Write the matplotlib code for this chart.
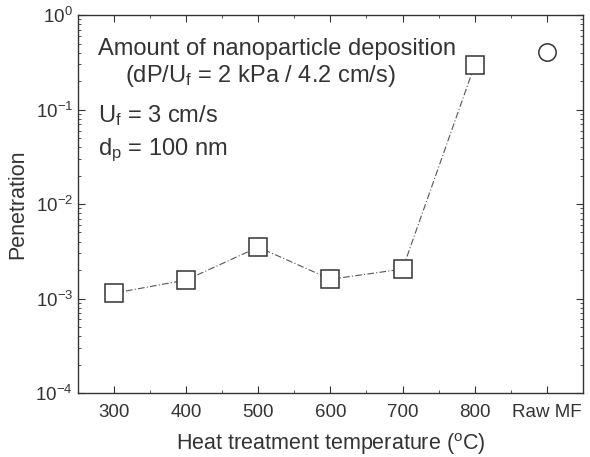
import numpy as np
import matplotlib.pyplot as plt
from matplotlib.ticker import LogLocator, MultipleLocator, FixedLocator, NullFormatter

plt.rcParams['font.family'] = ['Liberation Sans', 'DejaVu Sans']
plt.rcParams['mathtext.fontset'] = 'custom'
plt.rcParams['mathtext.rm'] = 'Liberation Sans'
plt.rcParams['mathtext.it'] = 'Liberation Sans'

temps = [300, 400, 500, 600, 700, 800]
penetration = [1.14e-3, 1.57e-3, 3.5e-3, 1.6e-3, 2.05e-3, 0.295]
raw_x = [900]
raw_pen = [0.41]
tick_pos = [300, 400, 500, 600, 700, 800, 900]
tick_labels = ['300', '400', '500', '600', '700', '800', 'Raw MF']

ink = '#333333'
fig = plt.figure(figsize=(5.9, 4.57), dpi=100)
ax = fig.add_axes([0.132, 0.140, 0.856, 0.827])

ax.plot(temps, penetration, color='#555555', lw=0.8, ls=(0, (6, 2, 1, 2)),
        marker='s', ms=12.5, mfc='white', mec=ink, mew=1.1)
ax.plot(raw_x, raw_pen, ls='none', marker='o', ms=12.5, mfc='white', mec=ink, mew=1.1)

ax.set_yscale('log')
ax.set_ylim(1e-4, 1)
ax.set_xlim(250, 950)
ax.xaxis.set_major_locator(FixedLocator(tick_pos))
ax.set_xticklabels(tick_labels)
ax.xaxis.set_minor_locator(MultipleLocator(50))
ax.yaxis.set_major_locator(LogLocator(base=10, numticks=10))
ax.yaxis.set_minor_locator(LogLocator(base=10, subs=np.arange(2, 10), numticks=10))
ax.yaxis.set_minor_formatter(NullFormatter())

ax.tick_params(which='both', direction='in', top=True, right=True, colors=ink,
               labelsize=13.5, labelcolor=ink)
ax.tick_params(which='major', length=5)
ax.tick_params(which='minor', length=2.5)
ax.tick_params(axis='x', pad=8)
for s in ax.spines.values():
    s.set_color(ink)
    s.set_linewidth(1.0)

ax.set_xlabel('Heat treatment temperature ($^{\\rm o}$C)', fontsize=15.5, color=ink, labelpad=7)
ax.set_ylabel('Penetration', fontsize=15.5, color=ink, labelpad=5)

tk = dict(transform=ax.transAxes, fontsize=17, color=ink, va='baseline', ha='left')
ax.text(0.04, 0.894, 'Amount of nanoparticle deposition', **tk)
ax.text(0.093, 0.822, '(dP/U$_{\\rm f}$ = 2 kPa / 4.2 cm/s)', **tk)
ax.text(0.04, 0.716, 'U$_{\\rm f}$ = 3 cm/s', **tk)
ax.text(0.04, 0.630, 'd$_{\\rm p}$ = 100 nm', **tk)

fig.savefig('out.png', dpi=100)
